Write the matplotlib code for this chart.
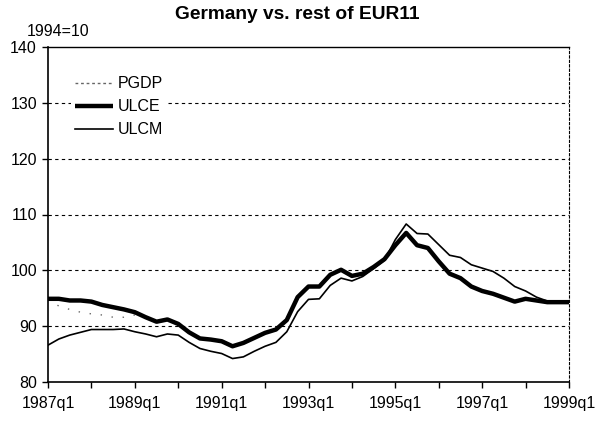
import matplotlib.pyplot as plt
import numpy as np

plt.rcParams['font.family'] = ['Liberation Sans', 'DejaVu Sans']

# quarterly data, 1987q1 .. 1999q1 (index 1994=100)
quarters = [f"{y}q{q}" for y in range(1987, 2000) for q in range(1, 5)][:49]

ulce = [94.9, 94.9, 94.6, 94.6, 94.4, 93.8, 93.4, 93.0, 92.5, 91.6,
        90.8, 91.2, 90.4, 88.9, 87.8, 87.6, 87.3, 86.4, 87.0, 87.9,
        88.8, 89.4, 91.1, 95.2, 97.1, 97.1, 99.2, 100.1, 99.0, 99.4,
        100.6, 102.0, 104.5, 106.7, 104.5, 104.0, 101.6, 99.4, 98.6, 97.1,
        96.3, 95.8, 95.1, 94.4, 94.9, 94.6, 94.3, 94.3, 94.3]

ulcm = [86.6, 87.7, 88.4, 88.9, 89.4, 89.4, 89.4, 89.5, 89.0, 88.6,
        88.1, 88.6, 88.4, 87.1, 86.0, 85.5, 85.1, 84.2, 84.5, 85.5,
        86.4, 87.1, 89.0, 92.6, 94.8, 94.9, 97.3, 98.6, 98.1, 98.9,
        100.3, 101.8, 105.5, 108.3, 106.6, 106.5, 104.6, 102.7, 102.3, 101.0,
        100.4, 99.8, 98.6, 97.1, 96.3, 95.2, 94.5, 94.3, 94.3]

pgdp = [94.8, 93.6, 93.0, 92.5, 92.2, 92.0, 91.6, 91.6, 92.0, 91.6,
        90.8, 91.2, 90.4, 88.9, 87.8, 87.6, 87.3, 86.4, 87.0, 87.9,
        88.8, 89.4, 91.1, 95.2, 97.1, 97.1, 99.2, 100.1, 99.0, 99.4,
        100.6, 102.0, 104.5, 106.7, 104.5, 104.0, 101.6, 99.4, 98.6, 97.1,
        96.3, 95.8, 95.1, 94.4, 94.9, 94.6, 94.3, 94.3, 94.3]

yticks = [80, 90, 100, 110, 120, 130, 140]

fig = plt.figure(figsize=(5.95, 4.25), dpi=100)
ax = fig.add_axes([48/595, 43/425, 521/595, 335/425])

x = np.arange(len(quarters))
ax.plot(x, pgdp, color='#666666', lw=1.0, ls=(0, (1, 7)), label='PGDP')
ax.plot(x, ulce, color='black', lw=3.2, solid_capstyle='butt', label='ULCE')
ax.plot(x, ulcm, color='black', lw=1.2, label='ULCM')

ax.set_xlim(0, 48)
ax.set_ylim(80, 140)
ax.set_yticks(yticks)
ax.set_xticks(x[::4])
ax.set_xticklabels([quarters[i] if i % 8 == 0 else '' for i in x[::4]])

for v in yticks[1:-1]:
    ax.axhline(v, color='black', lw=0.8, ls=(0, (3, 3)), zorder=0)

ax.spines['left'].set_linewidth(1.2)
ax.spines['bottom'].set_linewidth(1.2)
ax.spines['top'].set_linewidth(1.0)
ax.spines['right'].set_linewidth(0.8)
ax.spines['right'].set_linestyle((0, (2, 2)))

ax.tick_params(axis='both', direction='out', length=4, width=1,
               labelsize=11.5, pad=4)
ax.tick_params(axis='x', pad=6)

ax.text(-0.04, 1.025, '1994=10', transform=ax.transAxes, fontsize=11.5,
        ha='left', va='bottom')
fig.text(0.5, 0.965, 'Germany vs. rest of EUR11', ha='center', va='center',
         fontsize=13.8, fontweight='bold')

leg = ax.legend(loc='upper left', bbox_to_anchor=(0.045, 0.922), frameon=True,
                fontsize=11.5, handlelength=2.4, handletextpad=0.3,
                labelspacing=0.5, borderpad=0.2, borderaxespad=0,
                fancybox=False, facecolor='white', edgecolor='none',
                framealpha=1)
leg.get_lines()[0].set_linestyle((0, (2, 2)))

fig.savefig('out.png', dpi=100)
